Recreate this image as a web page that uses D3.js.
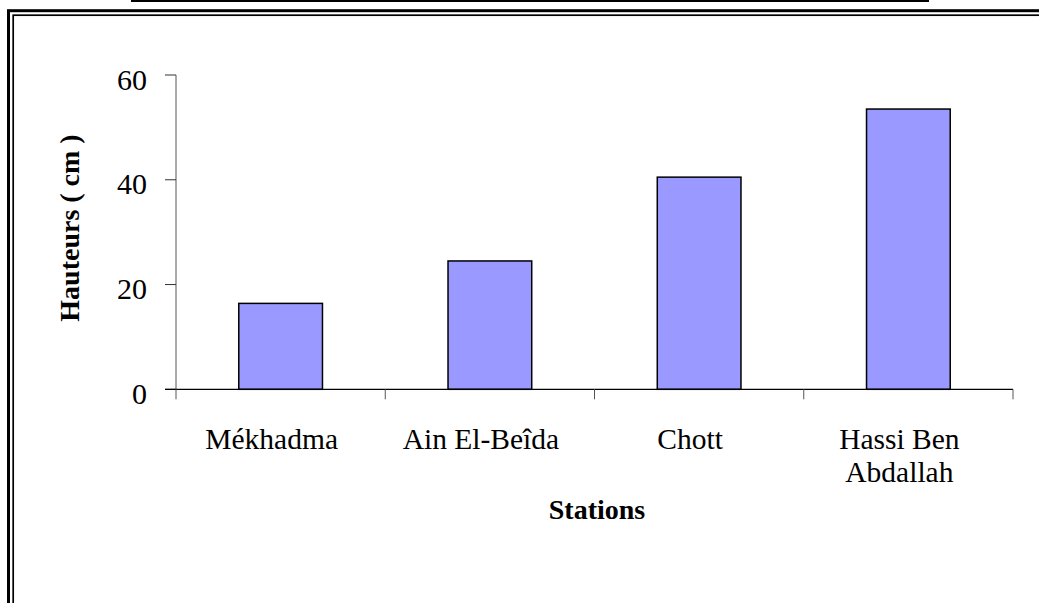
<!DOCTYPE html>
<html>
<head>
<meta charset="utf-8">
<script src="https://cdn.jsdelivr.net/npm/d3@7"></script>
<style>
  html, body { margin: 0; padding: 0; background: #fff; }
  svg { display: block; }
  text { font-family: "Liberation Serif", "Times New Roman", serif; fill: #000; }
</style>
</head>
<body>
<svg id="chart" width="1039" height="603"></svg>
<script>
const categories = ["Mékhadma", "Ain El-Beîda", "Chott", "Hassi Ben\nAbdallah"];
const values = [16.4, 24.5, 40.5, 53.5];
const yTicks = [0, 20, 40, 60];
const yTitle = "Hauteurs ( cm )";
const xTitle = "Stations";

const svg = d3.select("#chart");

// decorative frame (double border) and top rule
svg.append("line").attr("x1", 131).attr("x2", 929).attr("y1", 1).attr("y2", 1)
  .attr("stroke", "#000").attr("stroke-width", 2);
svg.append("rect").attr("x", 8.5).attr("y", 10.7).attr("width", 1200).attr("height", 800)
  .attr("fill", "none").attr("stroke", "#000").attr("stroke-width", 3);
svg.append("rect").attr("x", 13.2).attr("y", 15.2).attr("width", 1200).attr("height", 800)
  .attr("fill", "none").attr("stroke", "#000").attr("stroke-width", 1.7);

const x = d3.scaleBand().domain(categories).range([176, 1013])
  .paddingInner(0.6).paddingOuter(0.3);
const y = d3.scaleLinear().domain([0, 60]).range([389.3, 75]);

const g = svg.append("g");

// y axis
g.append("line").attr("x1", 176).attr("x2", 176)
  .attr("y1", y(60)).attr("y2", y(0))
  .attr("stroke", "#555").attr("stroke-width", 1);
g.selectAll(".ytick").data(yTicks).join("line")
  .attr("x1", 165).attr("x2", 176)
  .attr("y1", d => y(d)).attr("y2", d => y(d))
  .attr("stroke", "#333").attr("stroke-width", 1);
g.selectAll(".ylab").data(yTicks).join("text")
  .attr("x", 147).attr("y", d => y(d) + 14.5)
  .attr("text-anchor", "end")
  .attr("font-size", 30)
  .text(d => d);

// bars
g.selectAll(".bar").data(values).join("rect")
  .attr("x", (d, i) => x(categories[i]))
  .attr("y", d => y(d))
  .attr("width", x.bandwidth())
  .attr("height", d => y(0) - y(d))
  .attr("fill", "#9999FF")
  .attr("stroke", "#000").attr("stroke-width", 1.5);

// x axis
g.append("line").attr("x1", 165).attr("x2", 1013)
  .attr("y1", y(0)).attr("y2", y(0))
  .attr("stroke", "#000").attr("stroke-width", 1.2);
const bounds = d3.range(categories.length + 1).map(i => x.range()[0] + i * x.step());
g.selectAll(".xtick").data(bounds).join("line")
  .attr("x1", d => d).attr("x2", d => d)
  .attr("y1", y(0)).attr("y2", y(0) + 10)
  .attr("stroke", "#555").attr("stroke-width", 1);

// category labels
const lab = g.selectAll(".xlab").data(categories).join("text")
  .attr("text-anchor", "middle")
  .attr("font-size", 29.5)
  .attr("transform", d => `translate(${x(d) + x.bandwidth() / 2 - 9},449)`);
lab.selectAll("tspan").data(d => d.split("\n")).join("tspan")
  .attr("x", 0).attr("dy", (d, i) => i === 0 ? 0 : 33)
  .text(d => d);

// axis titles
svg.append("text")
  .attr("transform", "translate(79,228) rotate(-90)")
  .attr("text-anchor", "middle")
  .attr("font-size", 28).attr("font-weight", "bold")
  .text(yTitle);
svg.append("text")
  .attr("x", 597).attr("y", 519)
  .attr("text-anchor", "middle")
  .attr("font-size", 28).attr("font-weight", "bold")
  .text(xTitle);
</script>
</body>
</html>
